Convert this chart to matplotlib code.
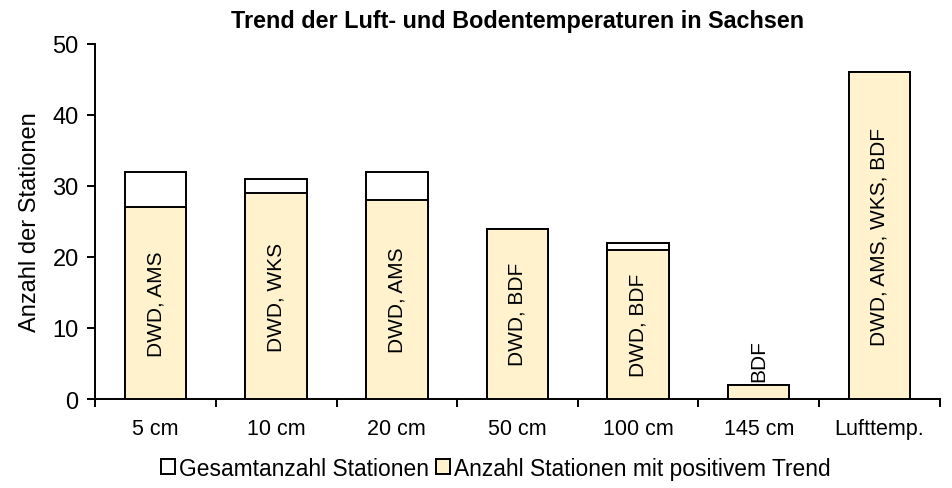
import matplotlib.pyplot as plt
import numpy as np

plt.rcParams['font.family'] = ['Liberation Sans', 'DejaVu Sans']

kategorien = ['5 cm', '10 cm', '20 cm', '50 cm', '100 cm', '145 cm', 'Lufttemp.']
gesamt = [32, 31, 32, 24, 22, 2, 46]
positiv = [27, 29, 28, 24, 21, 2, 46]
netze = ['DWD, AMS', 'DWD, WKS', 'DWD, AMS', 'DWD, BDF', 'DWD, BDF', 'BDF', 'DWD, AMS, WKS, BDF']

creme = '#FFF2CC'
x = np.arange(len(kategorien))

fig = plt.figure(figsize=(9.53, 4.89), dpi=100)
ax = fig.add_axes([0.1, 0.182, 0.886, 0.726])

ax.bar(x, gesamt, width=0.51, color='white', edgecolor='black', linewidth=1.4,
       label='Gesamtanzahl Stationen', zorder=2)
ax.bar(x, positiv, width=0.51, color=creme, edgecolor='black', linewidth=1.4,
       label='Anzahl Stationen mit positivem Trend', zorder=3)

for xi, p, t in zip(x, positiv, netze):
    if p < 5:
        ax.text(xi, p + 0.6, t, rotation=90, ha='center', va='bottom', fontsize=15, zorder=4)
    else:
        ax.text(xi, p / 2, t, rotation=90, ha='center', va='center', fontsize=15, zorder=4)

ax.set_xlim(-0.5, len(kategorien) - 0.5)
ax.set_ylim(0, 50)
ax.set_yticks([0, 10, 20, 30, 40, 50])
ax.tick_params(axis='y', labelsize=17, width=1.4, length=6, direction='out', pad=6)
ax.set_xticks(x)
ax.set_xticklabels(kategorien, fontsize=15.5)
ax.tick_params(axis='x', length=0, pad=14)
ax.set_xticks(list(np.arange(-0.5, len(kategorien), 1)), minor=True)
ax.tick_params(axis='x', which='minor', length=6, width=1.4, direction='out')

ax.spines['top'].set_visible(False)
ax.spines['right'].set_visible(False)
ax.spines['left'].set_linewidth(1.4)
ax.spines['bottom'].set_linewidth(1.4)

ax.set_ylabel('Anzahl der Stationen', fontsize=17, labelpad=8)
ax.set_title('Trend der Luft- und Bodentemperaturen in Sachsen', fontsize=16.8,
             fontweight='bold', pad=12)

fig.legend(loc='lower center', bbox_to_anchor=(0.52, -0.025), ncol=2, frameon=False,
           fontsize=16.4, handlelength=0.65, handleheight=0.65, handletextpad=0.15,
           columnspacing=0.3)

fig.savefig('out.png', dpi=100)
